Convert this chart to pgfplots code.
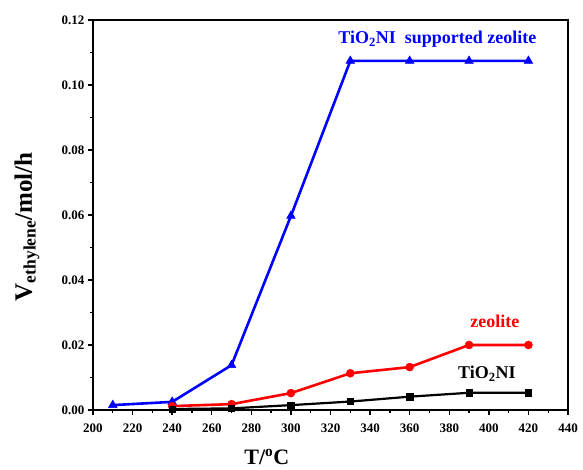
\documentclass[border=0pt]{standalone}
\usepackage{pgfplots}
\pgfplotsset{compat=1.18}
\usepackage{fontspec}
\setmainfont{Liberation Serif}
\begin{document}
\begin{tikzpicture}[x=1pt,y=1pt]
\begin{axis}[
  scale only axis,
  width=475pt, height=390pt,
  xmin=200, xmax=440, ymin=0, ymax=0.12,
  xtick={200,220,...,440},
  ytick={0,0.02,...,0.12},
  minor x tick num=1, minor y tick num=1,
  axis line style={line width=1.6pt},
  tick style={line width=1.4pt, black},
  major tick length=5pt, minor tick length=3pt,
  tick align=outside,
  xtick pos=bottom, ytick pos=left,
  yticklabel style={/pgf/number format/.cd, fixed, fixed zerofill, precision=2},
  /pgf/number format/assume math mode=true,
  ticklabel style={font=\fontsize{13}{14}\selectfont\bfseries},
  xticklabel style={yshift=-5pt},
  xlabel={T/\textsuperscript{o}C},
  ylabel={V\textsubscript{ethylene}/mol/h},
  xlabel style={font=\fontsize{22}{24}\selectfont\bfseries, at={(axis description cs:0.366,0)}, anchor=center, yshift=-47pt},
  ylabel style={font=\fontsize{25}{28}\selectfont\bfseries, at={(axis description cs:0,0.47)}, anchor=center, yshift=66pt},
  clip=false,
]
\addplot[blue, line width=2.6pt, mark=triangle*, mark size=5pt, mark options={line width=0.5pt}]
  coordinates {(210,0.0015) (240,0.0025) (270,0.0138) (300,0.0597) (330,0.1074) (360,0.1074) (390,0.1074) (420,0.1074)};
\addplot[red, line width=2.6pt, mark=*, mark size=4pt, mark options={line width=0.5pt}]
  coordinates {(240,0.0012) (270,0.0018) (300,0.0052) (330,0.0113) (360,0.0132) (390,0.0200) (420,0.0200)};
\addplot[black, line width=2.2pt, mark=square*, mark size=3.2pt, mark options={line width=0.5pt}]
  coordinates {(240,0.0003) (270,0.0005) (300,0.0015) (330,0.0026) (360,0.0041) (390,0.0053) (420,0.0053)};
\node[blue, font=\fontsize{18}{20}\selectfont\bfseries] at (axis cs:374,0.1140) {TiO\textsubscript{2}NI\ \ supported zeolite};
\node[red, font=\fontsize{18}{20}\selectfont\bfseries] at (axis cs:403,0.0272) {zeolite};
\node[black, font=\fontsize{18}{20}\selectfont\bfseries] at (axis cs:399,0.0112) {TiO\textsubscript{2}NI};
\end{axis}
\pgfresetboundingbox
\path (current axis.south west) ++(-93pt,-60pt) coordinate (bl);
\path (current axis.north east) ++(15pt,20pt) coordinate (tr);
\path (bl) rectangle (tr);
\end{tikzpicture}
\end{document}
